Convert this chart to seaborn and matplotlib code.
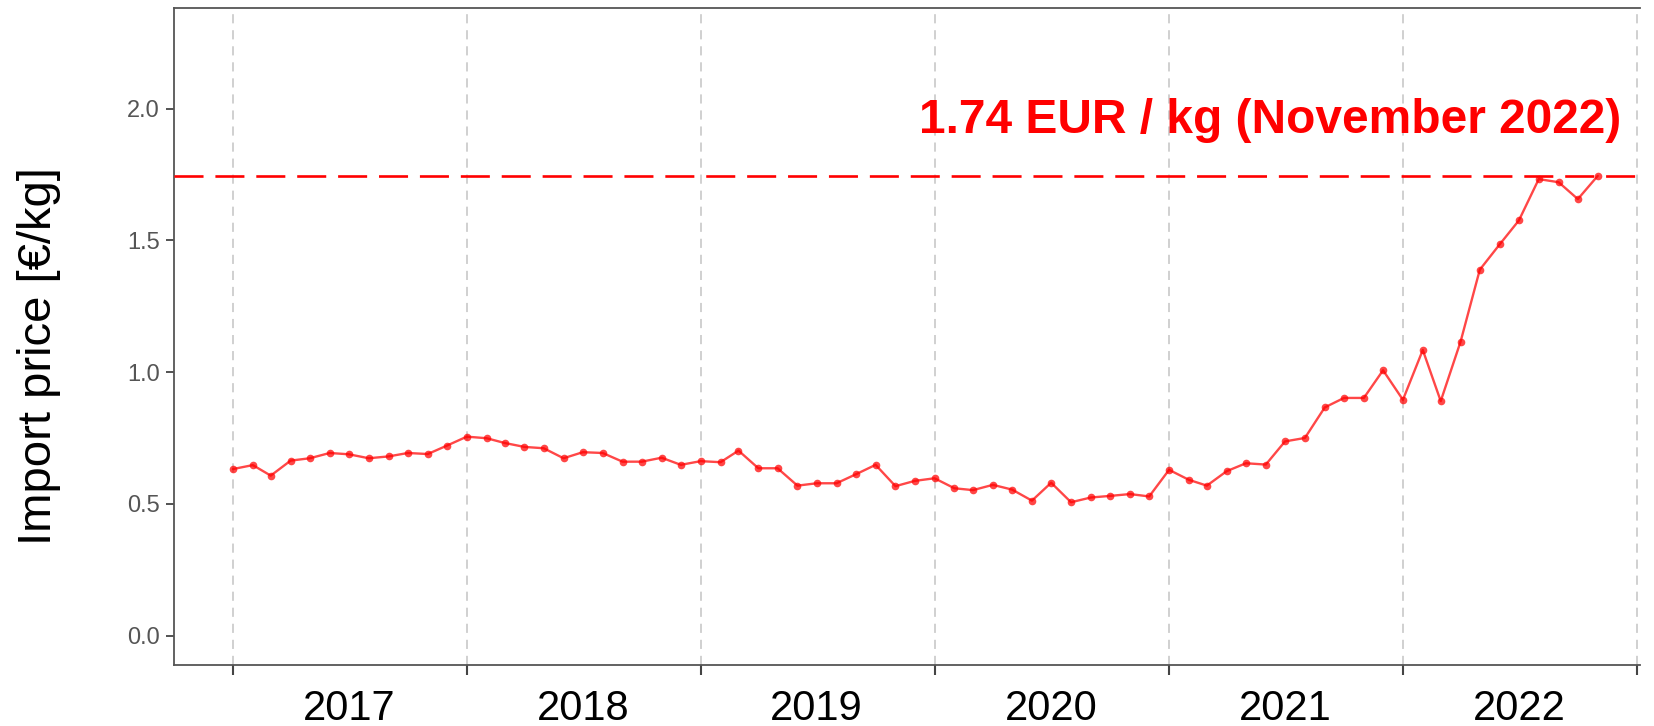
import pandas as pd
import numpy as np
import matplotlib
matplotlib.use('Agg')
import matplotlib.pyplot as plt
import matplotlib.dates as mdates
from matplotlib.ticker import FixedLocator, FormatStrFormatter, NullFormatter
import seaborn as sns

sns.set_theme(style='white')
plt.rcParams['font.family'] = ['Liberation Sans', 'DejaVu Sans']

# monthly import price, Jan 2017 - Nov 2022 (EUR/kg)
months = pd.date_range('2017-01-01', '2022-11-01', freq='MS')
price_2017 = [0.632, 0.647, 0.607, 0.664, 0.673, 0.693, 0.688, 0.673, 0.680, 0.693, 0.689, 0.721]
price_2018 = [0.755, 0.749, 0.731, 0.716, 0.711, 0.673, 0.696, 0.693, 0.660, 0.660, 0.675, 0.648]
price_2019 = [0.662, 0.658, 0.702, 0.635, 0.635, 0.569, 0.578, 0.578, 0.613, 0.648, 0.567, 0.587]
price_2020 = [0.597, 0.559, 0.552, 0.572, 0.554, 0.512, 0.580, 0.506, 0.524, 0.530, 0.537, 0.528]
price_2021 = [0.629, 0.591, 0.569, 0.624, 0.654, 0.649, 0.737, 0.750, 0.866, 0.902, 0.902, 1.007]
price_2022 = [0.895, 1.084, 0.890, 1.116, 1.389, 1.485, 1.576, 1.733, 1.721, 1.657, 1.745]

prices = price_2017 + price_2018 + price_2019 + price_2020 + price_2021 + price_2022
df = pd.DataFrame({'date': months, 'price': prices})

latest_value = prices[-1]
latest_label = '1.74 EUR / kg (November 2022)'
yticks = [0.0, 0.5, 1.0, 1.5, 2.0]

fig = plt.figure(figsize=(16.54, 7.26), dpi=100)
ax = fig.add_axes([174/1654, 61/726, (1640-174)/1654, (665-8.4)/726])

# year gridlines
ax.xaxis.set_major_locator(mdates.YearLocator(base=1, month=1, day=1))
ax.xaxis.set_major_formatter(NullFormatter())
ax.xaxis.set_minor_locator(mdates.YearLocator(base=1, month=7, day=1))
ax.xaxis.set_minor_formatter(mdates.DateFormatter('%Y'))
ax.grid(axis='x', which='major', color='#c4c4c4', lw=1.1, ls=(0, (6, 4.5)))
ax.grid(axis='y', visible=False)

sns.lineplot(data=df, x='date', y='price', ax=ax, color='red', alpha=0.72,
             lw=1.7, marker='o', markersize=5.5, markeredgewidth=0, zorder=3)

ax.axhline(latest_value, color='red', lw=1.9, ls=(0, (11, 4.5)), zorder=4)
ax.text(0.987, 1.955, latest_label, transform=ax.get_yaxis_transform(),
        ha='right', va='center', color='red', fontsize=34.5, fontweight='bold')

ax.set_xlim(pd.Timestamp('2016-10-01'), pd.Timestamp('2023-01-06'))
ax.set_ylim(-0.112, 2.381)
ax.yaxis.set_major_locator(FixedLocator(yticks))
ax.yaxis.set_major_formatter(FormatStrFormatter('%.1f'))

ax.set_xlabel('')
ax.set_ylabel('Import price [€/kg]', fontsize=34, color='black')
ax.yaxis.set_label_coords(-0.077, 0.47)

for side in ['left', 'bottom', 'top']:
    ax.spines[side].set_visible(True)
    ax.spines[side].set_color('#555555')
    ax.spines[side].set_linewidth(1.3)
ax.spines['right'].set_visible(False)

ax.tick_params(axis='y', which='major', left=True, length=6, width=1.3, color='#444444',
               labelsize=17, labelcolor='#555555', pad=4)
ax.tick_params(axis='x', which='major', bottom=True, length=7, width=1.5, color='#444444')
ax.tick_params(axis='x', which='minor', bottom=False, length=0, labelsize=30,
               labelcolor='black', pad=17)

plt.savefig('out.png', dpi=100)
